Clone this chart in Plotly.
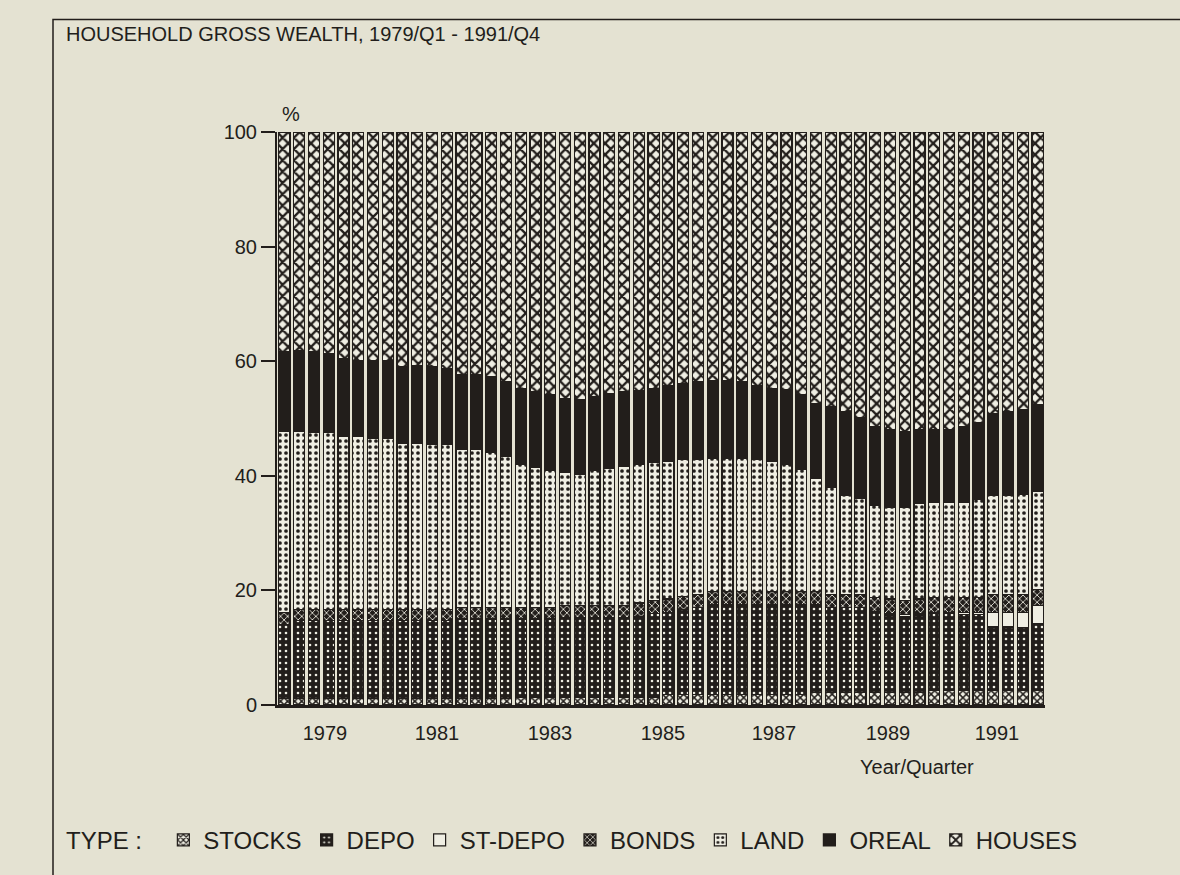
import plotly.graph_objects as go

# ---- data (percent of household gross wealth), 1979/Q1 .. 1991/Q4 ----
years = list(range(1979, 1992))
quarters = [f"{y}/Q{q}" for y in years for q in range(1, 5)]
tick_labels = ["1979", "1981", "1983", "1985", "1987", "1989", "1991"]

stocks = [1.2] * 16 + [1.4] * 10 + [1.8] * 10 + [2.2] * 8 + [2.6] * 8

depo = [12.9] + [13.5] * 11 + [13.8] * 4 + [13.6] * 3 + [13.9] * 5 + \
       [14.1, 14.5, 14.4, 14.8, 15.2] + [15.7] * 7 + [15.3, 14.8, 14.8, 14.8, 14.1,
       13.5, 13.3, 13.5, 13.3, 13.3, 13.2, 13.2, 11.0, 11.0, 10.9, 11.6]

st_depo = [0.0] * 41 + [0.3, 0.3, 0.3, 0.3, 0.3, 0.4, 0.4, 2.6, 2.6, 2.7, 3.1]

bonds = [2.0] * 24 + [2.3] * 16 + [2.5] * 8 + [3.1, 3.1, 3.1, 2.9]

land = [31.7, 31.1, 30.8, 30.9, 30.2, 30.1, 29.9, 29.9, 29.0, 28.9, 28.7, 28.7,
        27.6, 27.6, 27.1, 26.4, 25.0, 24.4, 24.0, 23.3, 23.0, 23.7, 24.0, 24.4,
        24.2, 24.1, 24.1, 24.0, 23.5, 23.2, 23.2, 23.2, 23.1, 22.8, 22.2, 21.3,
        19.7, 18.7, 17.3, 16.7, 16.0, 16.0, 16.2, 16.6, 16.7, 16.7, 16.7, 17.2,
        17.3, 17.2, 17.4, 17.0]

oreal = [13.8, 14.1, 14.1, 13.7, 13.5, 13.3, 13.5, 13.5, 13.4, 13.6, 13.6, 13.3,
         13.1, 13.1, 13.2, 13.0, 13.2, 13.3, 13.1, 12.9, 13.0, 12.8, 13.1, 13.0,
         12.8, 12.9, 13.2, 13.2, 13.6, 13.6, 13.6, 13.4, 12.9, 12.6, 13.0, 13.0,
         13.1, 14.1, 14.6, 14.1, 13.8, 13.5, 13.3, 12.9, 12.6, 12.6, 13.2, 13.3,
         14.3, 14.7, 14.8, 15.2]

houses = [38.4, 38.1, 38.4, 38.7, 39.6, 39.9, 39.9, 39.9, 40.9, 40.8, 41.0, 41.3,
          42.3, 42.3, 42.7, 43.6, 44.8, 45.3, 45.9, 46.5, 46.7, 46.2, 45.6, 45.3,
          45.2, 44.8, 44.2, 43.9, 43.6, 43.4, 43.4, 43.6, 44.2, 44.8, 45.0, 45.9,
          47.4, 47.9, 48.8, 49.9, 51.4, 52.0, 52.2, 52.0, 52.0, 52.0, 51.4, 50.8,
          49.1, 48.8, 48.5, 47.6]

series = [("STOCKS", stocks), ("DEPO", depo), ("ST-DEPO", st_depo), ("BONDS", bonds),
          ("LAND", land), ("OREAL", oreal), ("HOUSES", houses)]

# ---- styling ----
BG = "#e4e2d2"
INK = "#221e1b"
LIGHT = "#efeee3"
FONT = "Liberation Sans, Arial, sans-serif"

styles = {
    "STOCKS": dict(bg=LIGHT, fg=INK, shape="x", size=5, sol=0.5),
    "DEPO": dict(bg=INK, fg=LIGHT, shape=".", size=6, sol=0.15),
    "ST-DEPO": dict(bg=LIGHT, fg=LIGHT, shape="", size=6, sol=0.2),
    "BONDS": dict(bg=INK, fg=LIGHT, shape="x", size=5, sol=0.3),
    "LAND": dict(bg=LIGHT, fg=INK, shape=".", size=6, sol=0.3),
    "OREAL": dict(bg=INK, fg=INK, shape="", size=6, sol=0.2),
    "HOUSES": dict(bg=LIGHT, fg=INK, shape="x", size=8, sol=0.5),
}

x_idx = list(range(len(quarters)))

fig = go.Figure()
for name, vals in series:
    s = styles[name]
    fig.add_trace(go.Bar(
        x=x_idx, y=vals, name=name, customdata=quarters,
        hovertemplate="%{customdata}<br>" + name + ": %{y:.1f}%<extra></extra>",
        marker=dict(
            color=s["bg"],
            line=dict(color=INK, width=1.2),
            pattern=dict(shape=s["shape"], fgcolor=s["fg"], bgcolor=s["bg"],
                         size=s["size"], solidity=s["sol"], fillmode="replace"),
        ),
    ))

W, H = 1180, 875
L, R, T, B = 277, 135, 132, 163
pw, ph = W - L - R, H - T - B


def px(xp):
    return (xp - L) / pw


def py(yp):
    return (H - B - yp) / ph


# tick label positions (in bar-index units) as placed on the original chart
n = len(quarters)
bw = pw / n
label_px = [325, 437, 550, 663, 774, 888, 997]
tickvals = [(p - L) / bw - 0.5 for p in label_px]

fig.update_layout(
    width=W, height=H,
    margin=dict(l=L, r=R, t=T, b=B, pad=0),
    paper_bgcolor=BG, plot_bgcolor=BG,
    barmode="stack", bargap=0.25,
    font=dict(family=FONT, color=INK, size=20),
    showlegend=True,
    legend=dict(
        orientation="h", x=px(64), y=py(849), xanchor="left", yanchor="middle",
        traceorder="normal", bgcolor="rgba(0,0,0,0)",
        title=dict(text="TYPE :  ", side="left", font=dict(size=24, family=FONT, color=INK)),
        font=dict(size=24, family=FONT, color=INK),
        itemwidth=30, tracegroupgap=0,
    ),
    xaxis=dict(
        range=[-0.5, n - 0.5], tickmode="array", tickvals=tickvals, ticktext=tick_labels,
        ticks="", showgrid=False, zeroline=False, showline=True, linecolor=INK,
        linewidth=3, tickfont=dict(size=20, family=FONT, color=INK), ticklabelstandoff=8,
    ),
    yaxis=dict(
        range=[0, 100], tickmode="array", tickvals=[0, 20, 40, 60, 80, 100],
        ticks="outside", ticklen=14, tickwidth=2, tickcolor=INK,
        showgrid=False, zeroline=False, showline=True, linecolor=INK, linewidth=2,
        tickfont=dict(size=20, family=FONT, color=INK),
    ),
    shapes=[dict(type="rect", xref="paper", yref="paper",
                 x0=px(53), x1=px(1240), y0=py(940), y1=py(18),
                 line=dict(color=INK, width=1.5), fillcolor="rgba(0,0,0,0)", layer="below")],
    annotations=[
        dict(text="HOUSEHOLD GROSS WEALTH, 1979/Q1 - 1991/Q4", xref="paper", yref="paper",
             x=px(64), y=py(33), xanchor="left", yanchor="middle", showarrow=False,
             font=dict(size=20, family=FONT, color=INK)),
        dict(text="%", xref="paper", yref="paper", x=px(291), y=py(114),
             xanchor="center", yanchor="middle", showarrow=False,
             font=dict(size=20, family=FONT, color=INK)),
        dict(text="Year/Quarter", xref="paper", yref="paper", x=px(917), y=py(775),
             xanchor="center", yanchor="middle", showarrow=False,
             font=dict(size=20, family=FONT, color=INK)),
    ],
)

fig.write_html(
    "out.html",
    config={"displayModeBar": False},
    post_script="document.body.style.margin='0';document.body.style.overflow='hidden';"
                "document.documentElement.style.overflow='hidden';",
)
